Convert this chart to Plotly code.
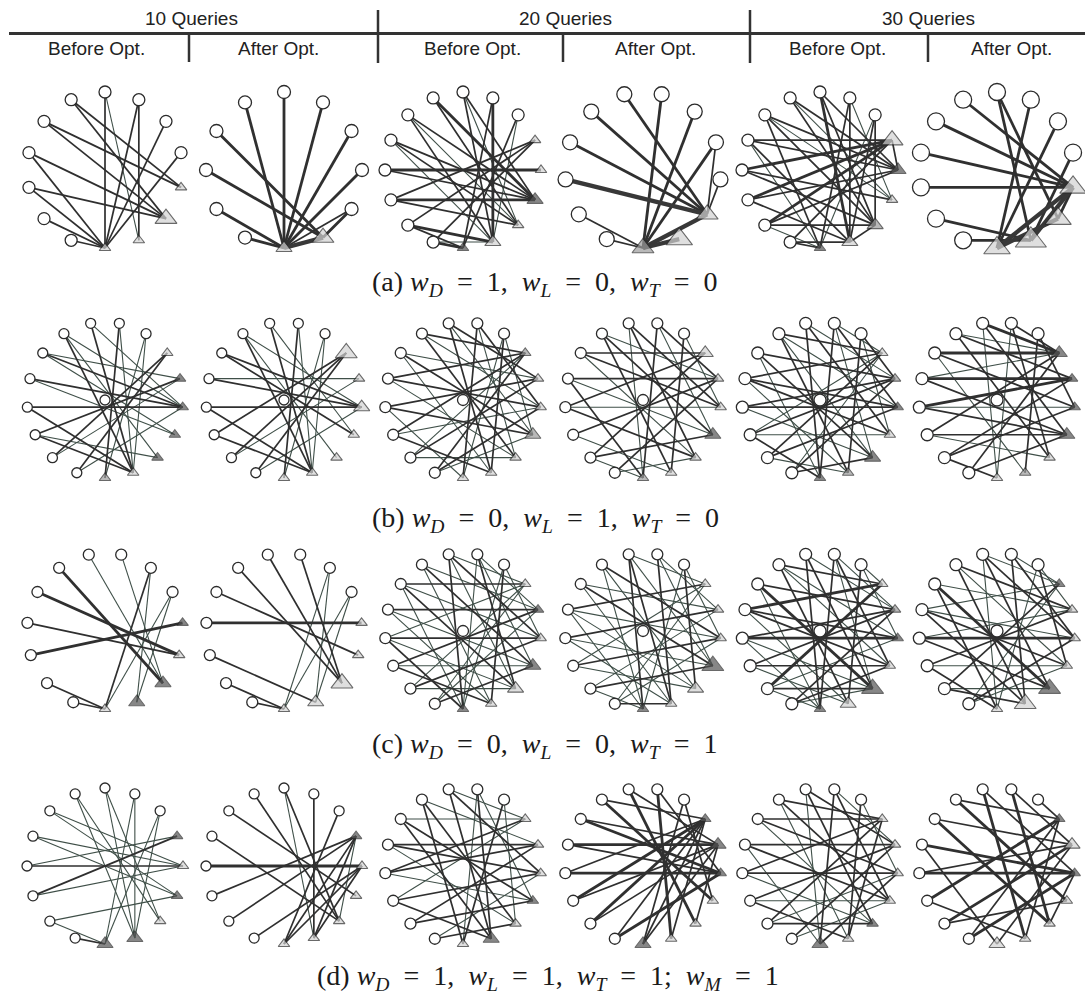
import math
import plotly.graph_objects as go

W, H = 1085, 1001

# ---------------- text ----------------
GROUPS = ["10 Queries", "20 Queries", "30 Queries"]
PHASES = ["Before Opt.", "After Opt."]
SP = "\u2002"
CAPTIONS = [
    f"(a) <i>w</i><sub><i>D</i></sub>{SP}={SP}1,{SP}<i>w</i><sub><i>L</i></sub>{SP}={SP}0,{SP}<i>w</i><sub><i>T</i></sub>{SP}={SP}0",
    f"(b) <i>w</i><sub><i>D</i></sub>{SP}={SP}0,{SP}<i>w</i><sub><i>L</i></sub>{SP}={SP}1,{SP}<i>w</i><sub><i>T</i></sub>{SP}={SP}0",
    f"(c) <i>w</i><sub><i>D</i></sub>{SP}={SP}0,{SP}<i>w</i><sub><i>L</i></sub>{SP}={SP}0,{SP}<i>w</i><sub><i>T</i></sub>{SP}={SP}1",
    f"(d) <i>w</i><sub><i>D</i></sub>{SP}={SP}1,{SP}<i>w</i><sub><i>L</i></sub>{SP}={SP}1,{SP}<i>w</i><sub><i>T</i></sub>{SP}={SP}1;{SP}<i>w</i><sub><i>M</i></sub>{SP}={SP}1",
]

# ---------------- panel data ----------------
# node sequence around the ring (q = query, s = site); site load & tier; edges (query, site, weight)
A1_NODES = "qqqqssssqqqqqq"
A1_LOAD = [1, 3, 1, 1]
A1_TIER = [0, 0, 0, 0]
A1_EDGES = [(0, 7, 2), (0, 6, 1), (1, 6, 2), (1, 7, 2), (2, 7, 2), (3, 7, 2), (13, 4, 2), (13, 5, 2),
            (12, 4, 2), (12, 5, 2), (11, 5, 2), (11, 7, 2), (10, 5, 2), (10, 7, 2), (9, 7, 2), (8, 7, 2)]

A2_NODES = "qqqqqssqqqqq"
A2_LOAD = [3, 2]
A2_TIER = [0, 0]
A2_EDGES = [(0, 6, 3), (1, 6, 3), (2, 6, 3), (3, 6, 3), (4, 5, 3), (7, 6, 3), (8, 6, 3), (9, 5, 3),
            (10, 5, 3), (11, 6, 3), (6, 5, 4), (4, 6, 2)]

A3_NODES = "qqqssssssqqqqqqq"
A3_LOAD = [1, 1, 2, 1, 2, 1]
A3_TIER = [0, 0, 2, 0, 0, 2]
A3_EDGES = [(15, 5, 3), (15, 6, 2), (0, 5, 2), (0, 6, 1), (0, 7, 2), (1, 7, 3), (1, 8, 2), (2, 8, 2),
            (2, 7, 1), (14, 5, 2), (14, 6, 1), (14, 7, 2), (13, 5, 2), (13, 6, 2), (13, 7, 1), (12, 4, 3),
            (12, 5, 2), (11, 5, 3), (11, 6, 2), (11, 3, 2), (10, 7, 3), (10, 8, 2), (10, 3, 2), (9, 8, 3),
            (9, 3, 2), (9, 7, 1)]

A4_NODES = "qqqqsssqqqqqq"
A4_LOAD = [3, 4, 3]
A4_TIER = [0, 0, 1]
A4_EDGES = [(12, 4, 3), (0, 6, 3), (11, 4, 3), (1, 6, 3), (10, 4, 3), (2, 6, 3), (9, 4, 4), (3, 4, 2),
            (8, 6, 2), (7, 6, 2), (6, 4, 4), (6, 5, 4), (2, 4, 2)]

A5_NODES = "qqqssssssqqqqqqq"
A5_LOAD = [3, 2, 1, 2, 2, 1]
A5_TIER = [0, 2, 0, 1, 0, 2]
A5_EDGES = [(0, 6, 2), (0, 7, 3), (0, 4, 2), (1, 7, 2), (1, 8, 2), (1, 5, 1), (2, 7, 2), (2, 6, 2),
            (2, 8, 1), (9, 3, 2), (9, 8, 2), (9, 7, 2), (10, 3, 3), (10, 6, 2), (10, 8, 1), (10, 4, 2),
            (11, 3, 3), (11, 4, 2), (11, 7, 2), (12, 3, 3), (12, 5, 2), (12, 6, 2), (13, 3, 2), (13, 4, 2),
            (13, 7, 2), (13, 8, 1), (14, 4, 2), (14, 5, 1), (14, 8, 2), (14, 6, 2), (15, 4, 2), (15, 6, 2),
            (15, 5, 1), (3, 4, 2), (6, 7, 2)]

A6_NODES = "qqqqssssqqqqqq"
A6_LOAD = [4, 4, 5, 4]
A6_TIER = [0, 0, 0, 0]
A6_EDGES = [(0, 6, 3), (0, 5, 3), (1, 7, 3), (2, 7, 3), (3, 6, 3), (13, 4, 3), (12, 4, 3), (11, 4, 3),
            (10, 4, 3), (9, 6, 3), (8, 6, 3), (4, 7, 4), (4, 6, 4), (5, 7, 4), (4, 5, 3)]

B_NODES = "qqsssssssqqqqqqqq"
B1_LOAD = [1, 1, 1, 1, 1, 1, 1]
B1_TIER = [0, 2, 2, 2, 2, 0, 1]
B1_EDGES = [(16, 7, 2), (16, 4, 1), (0, 7, 1), (0, 8, 2), (1, 8, 1), (1, 7, 1), (15, 7, 2), (15, 6, 1),
            (15, 4, 1), (14, 4, 2), (14, 5, 1), (14, 3, 1), (13, 4, 2), (13, 5, 1), (12, 4, 2), (12, 7, 2),
            (11, 3, 2), (11, 7, 2), (11, 6, 1), (10, 2, 2), (10, 3, 1), (9, 2, 2), (9, 4, 1)]

B2_LOAD = [3, 1, 2, 1, 1, 1, 1]
B2_TIER = [0, 0, 0, 0, 0, 0, 0]
B2_EDGES = [(16, 7, 2), (16, 5, 1), (0, 7, 1), (0, 8, 2), (1, 8, 1), (1, 7, 1), (15, 7, 2), (15, 4, 1),
            (15, 6, 1), (14, 4, 2), (14, 5, 2), (13, 4, 2), (13, 3, 1), (12, 4, 2), (12, 7, 2), (11, 2, 2),
            (11, 7, 2), (10, 2, 2), (10, 3, 1), (9, 2, 2), (9, 4, 1)]

B3_LOAD = [1, 1, 1, 2, 1, 1, 1]
B3_TIER = [1, 0, 0, 1, 0, 0, 0]
B3_EDGES = [(0, 8, 2), (0, 6, 1), (0, 4, 2), (1, 8, 1), (1, 7, 2), (1, 5, 1), (16, 7, 2), (16, 5, 1),
            (16, 3, 2), (15, 6, 2), (15, 4, 1), (15, 2, 2), (14, 5, 2), (14, 3, 1), (14, 7, 1), (13, 4, 2),
            (13, 2, 2), (13, 6, 1), (12, 3, 2), (12, 5, 2), (12, 8, 1), (11, 2, 2), (11, 4, 1), (11, 7, 2),
            (10, 3, 2), (10, 6, 1), (10, 2, 1), (9, 2, 2), (9, 4, 2), (9, 5, 1)]

B4_LOAD = [2, 1, 1, 2, 1, 1, 1]
B4_TIER = [0, 0, 0, 2, 0, 0, 1]
B4_EDGES = [(0, 8, 2), (0, 5, 1), (0, 3, 2), (1, 7, 2), (1, 4, 1), (16, 6, 2), (16, 4, 2), (16, 8, 1),
            (15, 5, 2), (15, 3, 1), (15, 7, 2), (14, 4, 2), (14, 2, 2), (14, 6, 1), (13, 3, 2), (13, 5, 1),
            (13, 8, 2), (12, 2, 2), (12, 4, 1), (12, 6, 2), (11, 3, 2), (11, 7, 1), (10, 2, 2), (10, 5, 2),
            (10, 8, 1), (9, 3, 2), (9, 6, 1)]

B5_LOAD = [1, 1, 1, 1, 2, 1, 1]
B5_TIER = [0, 1, 2, 0, 2, 1, 2]
B5_EDGES = [(0, 8, 2), (0, 6, 1), (0, 4, 2), (0, 2, 1), (1, 7, 2), (1, 5, 1), (1, 3, 2), (16, 8, 2),
            (16, 5, 2), (16, 3, 1), (15, 7, 2), (15, 4, 1), (15, 2, 2), (15, 6, 1), (14, 6, 2), (14, 3, 2),
            (14, 8, 1), (13, 5, 2), (13, 2, 2), (13, 7, 1), (13, 4, 2), (12, 4, 2), (12, 6, 1), (12, 3, 2),
            (11, 3, 2), (11, 5, 1), (11, 8, 2), (11, 2, 1), (10, 2, 2), (10, 4, 2), (10, 7, 1), (9, 3, 2),
            (9, 6, 2), (9, 2, 1)]

B6_LOAD = [2, 1, 1, 2, 1, 1, 1]
B6_TIER = [2, 2, 2, 2, 0, 1, 0]
B6_EDGES = [(0, 2, 2), (0, 6, 2), (0, 8, 1), (1, 7, 2), (1, 4, 2), (16, 2, 3), (16, 5, 2), (16, 8, 1),
            (15, 3, 2), (15, 6, 2), (15, 2, 1), (14, 2, 3), (14, 4, 2), (14, 7, 1), (13, 3, 3), (13, 5, 2),
            (13, 2, 1), (12, 3, 3), (12, 5, 2), (12, 4, 1), (11, 2, 2), (11, 5, 2), (11, 6, 1), (10, 3, 2),
            (10, 4, 2), (10, 8, 2), (9, 5, 2), (9, 2, 2)]

C_NODES_10 = "qqqsssssqqqqqqq"
C1_LOAD = [1, 1, 2, 2, 1]
C1_TIER = [2, 0, 2, 2, 0]
C1_EDGES = [(13, 5, 3), (12, 4, 3), (11, 4, 2), (10, 3, 3), (9, 7, 2), (8, 7, 2), (14, 5, 1), (0, 5, 1),
            (1, 7, 2), (1, 6, 1), (2, 6, 1), (2, 7, 1)]

C2_LOAD = [1, 1, 3, 2, 1]
C2_TIER = [0, 0, 0, 0, 0]
C2_EDGES = [(11, 3, 3), (12, 4, 2), (13, 5, 2), (14, 5, 2), (0, 5, 2), (1, 7, 1), (1, 6, 1), (2, 7, 1),
            (2, 6, 1), (10, 6, 2), (9, 7, 2), (8, 7, 2)]

C3_LOAD = [1, 1, 1, 2, 2, 1, 1]
C3_TIER = [0, 2, 0, 2, 0, 0, 2]
C3_EDGES = [(0, 8, 1), (0, 6, 2), (0, 3, 1), (0, 5, 1), (1, 7, 2), (1, 4, 1), (1, 8, 1), (16, 8, 2),
            (16, 6, 1), (16, 4, 2), (16, 2, 1), (15, 7, 1), (15, 5, 2), (15, 3, 1), (14, 6, 2), (14, 4, 1),
            (14, 2, 2), (14, 8, 1), (13, 5, 1), (13, 3, 2), (13, 7, 1), (12, 4, 2), (12, 2, 1), (12, 6, 1),
            (12, 8, 2), (11, 3, 2), (11, 5, 1), (11, 7, 2), (10, 2, 1), (10, 4, 2), (10, 6, 1), (9, 3, 1),
            (9, 5, 2), (9, 2, 1)]

C4_LOAD = [1, 1, 1, 3, 2, 1, 1]
C4_TIER = [0, 0, 0, 2, 0, 0, 2]
C4_EDGES = [(0, 7, 2), (0, 5, 1), (0, 3, 1), (1, 8, 1), (1, 6, 2), (1, 4, 1), (16, 7, 2), (16, 5, 1),
            (16, 2, 1), (16, 8, 2), (15, 6, 1), (15, 4, 2), (15, 8, 1), (14, 5, 2), (14, 3, 1), (14, 7, 1),
            (13, 4, 1), (13, 2, 2), (13, 6, 1), (13, 8, 1), (12, 3, 2), (12, 5, 1), (12, 7, 1), (11, 2, 1),
            (11, 4, 2), (11, 6, 1), (10, 3, 1), (10, 5, 2), (10, 8, 1), (9, 2, 1), (9, 4, 1), (9, 7, 2)]

C5_LOAD = [1, 1, 1, 1, 3, 2, 1]
C5_TIER = [0, 1, 2, 0, 2, 0, 2]
C5_EDGES = [(0, 8, 2), (0, 5, 2), (0, 3, 1), (0, 6, 1), (1, 7, 2), (1, 4, 1), (1, 2, 1), (16, 8, 2),
            (16, 6, 2), (16, 3, 1), (15, 7, 2), (15, 5, 1), (15, 2, 2), (15, 4, 1), (14, 6, 3), (14, 3, 2),
            (14, 8, 1), (13, 5, 2), (13, 2, 3), (13, 7, 1), (13, 4, 2), (12, 4, 3), (12, 6, 1), (12, 3, 2),
            (12, 8, 1), (11, 3, 2), (11, 5, 2), (11, 7, 1), (10, 2, 3), (10, 4, 1), (10, 6, 2), (10, 8, 1),
            (9, 3, 2), (9, 6, 1), (9, 5, 2)]

C6_LOAD = [1, 1, 1, 1, 3, 3, 1]
C6_TIER = [2, 0, 0, 0, 2, 0, 0]
C6_EDGES = [(0, 7, 2), (0, 4, 2), (0, 2, 1), (1, 8, 1), (1, 5, 2), (1, 3, 1), (16, 6, 2), (16, 4, 2),
            (16, 8, 1), (16, 2, 1), (15, 7, 2), (15, 5, 1), (15, 3, 2), (14, 6, 3), (14, 3, 1), (14, 8, 2),
            (13, 5, 2), (13, 2, 1), (13, 7, 2), (13, 4, 1), (12, 4, 3), (12, 6, 2), (12, 3, 1), (11, 3, 2),
            (11, 5, 1), (11, 8, 2), (10, 2, 2), (10, 6, 1), (10, 7, 2), (9, 4, 2), (9, 5, 1), (9, 2, 1)]

D_NODES_10 = "qqqssssssqqqqqqq"
D1_LOAD = [1, 1, 1, 1, 2, 2]
D1_TIER = [2, 0, 2, 0, 2, 2]
D1_EDGES = [(14, 5, 1), (14, 4, 1), (15, 7, 1), (15, 6, 1), (0, 7, 1), (0, 6, 1), (1, 8, 1), (1, 7, 1),
            (2, 8, 1), (2, 7, 1), (13, 4, 1), (13, 5, 1), (12, 4, 2), (12, 3, 1), (11, 3, 2), (11, 4, 1),
            (10, 5, 1), (10, 8, 1), (9, 8, 2)]

D2_LOAD = [1, 1, 1, 1, 1, 1]
D2_TIER = [2, 0, 0, 0, 0, 0]
D2_EDGES = [(15, 6, 2), (0, 6, 2), (0, 7, 1), (1, 7, 2), (2, 8, 2), (14, 5, 2), (13, 6, 2), (12, 4, 3),
            (11, 3, 2), (10, 3, 2), (9, 4, 2), (8, 4, 2), (7, 3, 2), (7, 4, 2), (6, 3, 1), (8, 3, 2)]

D3_LOAD = [1, 1, 1, 1, 1, 2, 1]
D3_TIER = [0, 0, 0, 2, 0, 2, 0]
D3_EDGES = [(0, 7, 2), (0, 5, 1), (0, 8, 1), (1, 8, 2), (1, 6, 1), (16, 7, 2), (16, 4, 2), (16, 2, 1),
            (15, 6, 2), (15, 3, 1), (15, 8, 2), (14, 5, 2), (14, 2, 1), (14, 7, 2), (13, 4, 2), (13, 6, 1),
            (13, 3, 2), (12, 3, 2), (12, 5, 1), (12, 2, 2), (11, 4, 2), (11, 2, 1), (11, 7, 2), (10, 3, 2),
            (10, 5, 2), (9, 6, 2), (9, 4, 1)]

D4_LOAD = [1, 2, 1, 1, 1, 1, 2]
D4_TIER = [2, 2, 2, 0, 0, 0, 2]
D4_EDGES = [(0, 7, 3), (0, 4, 2), (1, 8, 2), (1, 5, 2), (16, 6, 3), (16, 3, 2), (15, 5, 3), (15, 2, 2),
            (14, 4, 3), (14, 3, 2), (13, 3, 3), (13, 4, 2), (12, 4, 3), (12, 2, 2), (11, 2, 3), (11, 3, 2),
            (10, 3, 2), (10, 2, 3), (9, 2, 2), (9, 4, 3), (8, 3, 2), (8, 2, 2), (7, 2, 2), (6, 3, 2)]

D5_LOAD = [1, 1, 1, 1, 1, 1, 2]
D5_TIER = [0, 0, 0, 0, 2, 0, 2]
D5_EDGES = [(0, 8, 2), (0, 5, 2), (0, 3, 1), (1, 7, 2), (1, 4, 1), (16, 6, 2), (16, 3, 2), (16, 8, 1),
            (15, 5, 2), (15, 2, 2), (15, 7, 1), (14, 4, 2), (14, 6, 1), (14, 2, 2), (13, 3, 2), (13, 5, 2),
            (13, 8, 1), (12, 2, 2), (12, 4, 2), (12, 6, 1), (11, 3, 2), (11, 5, 1), (11, 7, 2), (10, 2, 2),
            (10, 4, 1), (10, 6, 2), (9, 3, 2), (9, 5, 1), (8, 4, 2), (7, 2, 2)]

D6_LOAD = [1, 2, 1, 1, 1, 1, 2]
D6_TIER = [2, 0, 2, 0, 0, 0, 0]
D6_EDGES = [(0, 6, 3), (0, 3, 2), (1, 2, 2), (16, 7, 3), (16, 4, 2), (15, 5, 3), (15, 2, 2), (14, 6, 3),
            (14, 3, 2), (13, 4, 3), (13, 8, 2), (12, 4, 3), (12, 3, 2), (11, 2, 3), (11, 7, 2), (10, 3, 3),
            (10, 5, 2), (9, 2, 2), (9, 4, 3), (8, 3, 2), (7, 2, 2), (6, 4, 2)]

# queries drawn at the ring centre (per panel)
CENTER_QUERY = [[0, 0, 0, 0, 0, 0],
                [1, 1, 1, 1, 1, 1],
                [0, 0, 1, 1, 1, 1],
                [0, 0, 0, 0, 0, 0]]

PANELS = [
    [(A1_NODES, A1_LOAD, A1_TIER, A1_EDGES), (A2_NODES, A2_LOAD, A2_TIER, A2_EDGES),
     (A3_NODES, A3_LOAD, A3_TIER, A3_EDGES), (A4_NODES, A4_LOAD, A4_TIER, A4_EDGES),
     (A5_NODES, A5_LOAD, A5_TIER, A5_EDGES), (A6_NODES, A6_LOAD, A6_TIER, A6_EDGES)],
    [(B_NODES, B1_LOAD, B1_TIER, B1_EDGES), (B_NODES, B2_LOAD, B2_TIER, B2_EDGES),
     (B_NODES, B3_LOAD, B3_TIER, B3_EDGES), (B_NODES, B4_LOAD, B4_TIER, B4_EDGES),
     (B_NODES, B5_LOAD, B5_TIER, B5_EDGES), (B_NODES, B6_LOAD, B6_TIER, B6_EDGES)],
    [(C_NODES_10, C1_LOAD, C1_TIER, C1_EDGES), (C_NODES_10, C2_LOAD, C2_TIER, C2_EDGES),
     (B_NODES, C3_LOAD, C3_TIER, C3_EDGES), (B_NODES, C4_LOAD, C4_TIER, C4_EDGES),
     (B_NODES, C5_LOAD, C5_TIER, C5_EDGES), (B_NODES, C6_LOAD, C6_TIER, C6_EDGES)],
    [(D_NODES_10, D1_LOAD, D1_TIER, D1_EDGES), (D_NODES_10, D2_LOAD, D2_TIER, D2_EDGES),
     (B_NODES, D3_LOAD, D3_TIER, D3_EDGES), (B_NODES, D4_LOAD, D4_TIER, D4_EDGES),
     (B_NODES, D5_LOAD, D5_TIER, D5_EDGES), (B_NODES, D6_LOAD, D6_TIER, D6_EDGES)],
]

# ---------------- styling ----------------
COL_X = [105, 284, 463, 643, 820, 997]
ROW_Y = [170, 400, 631, 866]
RING_PX = 78.0
SPAN = 1.12
HALF = SPAN * RING_PX
CIRCLE_PX = [[12, 13, 12, 15, 12, 17],
             [10, 10, 11, 11, 12, 12],
             [11, 11, 11, 11, 12, 12],
             [10, 10, 11, 11, 11, 11]]
LOAD_PX = {1: 10, 2: 14, 3: 19, 4: 23, 5: 27}
TIER_FILL = {0: "#d2d2d2", 1: "#9c9c9c", 2: "#555555"}
EDGE_W = {1: 1.1, 2: 1.7, 3: 2.8, 4: 4.3}
EDGE_C = {1: "#3f4f48", 2: "#2f2f2f", 3: "#303030", 4: "#383838"}
INK = "#2b2b2b"

fig = go.Figure()
layout_axes = {}
idx = 0
for r in range(4):
    for c in range(6):
        idx += 1
        nodes, load, tier, edges = PANELS[r][c]
        n = len(nodes)
        rot = 0.5 if n % 2 else 0.0
        ang = [math.pi / 2 - 2 * math.pi * (k + rot) / n for k in range(n)]
        px = [math.cos(a) for a in ang]
        py = [math.sin(a) for a in ang]
        xa = "x" if idx == 1 else f"x{idx}"
        ya = "y" if idx == 1 else f"y{idx}"
        common = dict(xaxis=xa, yaxis=ya, showlegend=False, hoverinfo="skip", cliponaxis=False)

        for w in sorted(set(e[2] for e in edges)):
            xs, ys = [], []
            for s, d, ww in edges:
                if ww == w:
                    xs += [px[s], px[d], None]
                    ys += [py[s], py[d], None]
            fig.add_trace(go.Scatter(x=xs, y=ys, mode="lines",
                                     line=dict(width=EDGE_W[w], color=EDGE_C[w]), **common))

        sites = [k for k, ch in enumerate(nodes) if ch == "s"]
        fig.add_trace(go.Scatter(
            x=[px[k] for k in sites], y=[py[k] for k in sites], mode="markers",
            marker=dict(symbol="triangle-up", size=[LOAD_PX[l] for l in load],
                        color=[TIER_FILL[t] for t in tier], line=dict(color=INK, width=1.1)),
            **common))

        queries = [k for k, ch in enumerate(nodes) if ch == "q"]
        qx = [px[k] for k in queries]
        qy = [py[k] for k in queries]
        if CENTER_QUERY[r][c]:
            qx.append(0.0)
            qy.append(0.0)
        fig.add_trace(go.Scatter(
            x=qx, y=qy, mode="markers",
            marker=dict(symbol="circle", size=CIRCLE_PX[r][c], color="white",
                        line=dict(color=INK, width=1.3)),
            **common))

        cx, cy = COL_X[c], ROW_Y[r]
        kx = "xaxis" if idx == 1 else f"xaxis{idx}"
        ky = "yaxis" if idx == 1 else f"yaxis{idx}"
        layout_axes[kx] = dict(domain=[(cx - HALF) / W, (cx + HALF) / W], range=[-SPAN, SPAN],
                               visible=False, fixedrange=True, anchor=ya)
        layout_axes[ky] = dict(domain=[1 - (cy + HALF) / H, 1 - (cy - HALF) / H], range=[-SPAN, SPAN],
                               visible=False, fixedrange=True, anchor=xa)

# ---------------- header ----------------
GROUP_X = [191, 565, 928]
PHASE_X = [96, 278, 472, 655, 837, 1011]
annotations = []
for g, gx in zip(GROUPS, GROUP_X):
    annotations.append(dict(text=g, x=gx / W, y=1 - 18 / H, xref="paper", yref="paper",
                            showarrow=False, xanchor="center", yanchor="middle",
                            font=dict(family="Liberation Sans, Arial", size=19, color="#222")))
for i, phx in enumerate(PHASE_X):
    annotations.append(dict(text=PHASES[i % 2], x=phx / W, y=1 - 48 / H, xref="paper", yref="paper",
                            showarrow=False, xanchor="center", yanchor="middle",
                            font=dict(family="Liberation Sans, Arial", size=19, color="#222")))

CAP_X = [545, 545, 545, 548]
CAP_Y = [283, 519, 745, 977]
for cap, cx, cy in zip(CAPTIONS, CAP_X, CAP_Y):
    annotations.append(dict(text=cap, x=cx / W, y=1 - cy / H, xref="paper", yref="paper",
                            showarrow=False, xanchor="center", yanchor="middle",
                            font=dict(family="Liberation Serif, Times New Roman, serif", size=28,
                                      color="#1a1a1a")))

shapes = [dict(type="line", xref="paper", yref="paper", x0=9 / W, x1=1, y0=1 - 33.5 / H, y1=1 - 33.5 / H,
               line=dict(color="#333", width=3))]
for vx in [378, 750]:
    shapes.append(dict(type="line", xref="paper", yref="paper", x0=vx / W, x1=vx / W,
                       y0=1 - 10 / H, y1=1 - 63 / H, line=dict(color="#333", width=2.5)))
for vx in [189, 563, 928]:
    shapes.append(dict(type="line", xref="paper", yref="paper", x0=vx / W, x1=vx / W,
                       y0=1 - 35 / H, y1=1 - 62 / H, line=dict(color="#333", width=2.5)))

fig.update_layout(width=W, height=H, autosize=False, margin=dict(l=0, r=0, t=0, b=0),
                  paper_bgcolor="white", plot_bgcolor="rgba(0,0,0,0)",
                  annotations=annotations, shapes=shapes, **layout_axes)

fig.write_html("out.html", config={"displayModeBar": False},
               post_script="document.body.style.margin='0';")
